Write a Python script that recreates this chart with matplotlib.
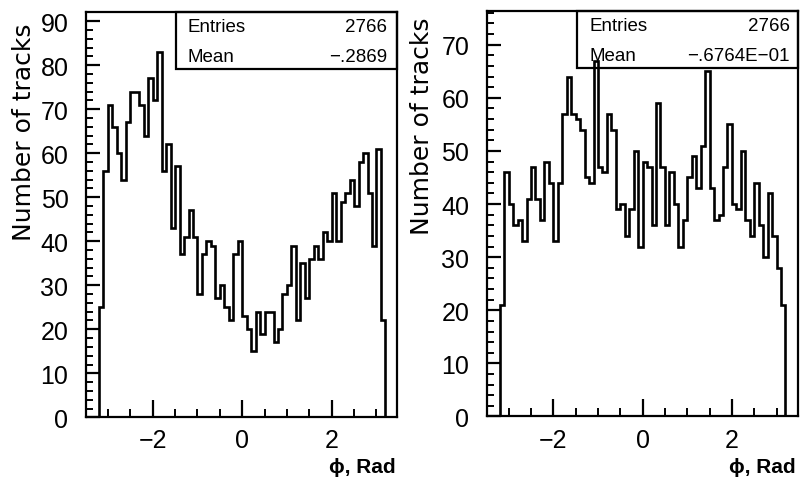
import numpy as np
import matplotlib
matplotlib.use("Agg")
import matplotlib.pyplot as plt
from matplotlib.ticker import MultipleLocator
from matplotlib.patches import Rectangle

# ---- data (64 bins over [-3.2, 3.2]) ----
phi_lo, phi_hi, n_bins = -3.2, 3.2, 64

counts_left = [25, 56, 71, 66, 60, 54, 67, 74, 74, 71,
               64, 77, 72, 83, 56, 62, 43, 57, 37, 41,
               47, 41, 28, 37, 40, 39, 27, 30, 25, 22,
               37, 40, 23, 20, 15, 24, 19, 24, 24, 17,
               20, 28, 30, 39, 22, 35, 27, 36, 39, 36,
               42, 40, 51, 40, 49, 51, 54, 48, 58, 60,
               51, 39, 61, 22]

counts_right = [21, 46, 40, 36, 37, 33, 41, 47, 41, 37,
                48, 44, 33, 44, 57, 64, 57, 56, 54, 45,
                44, 67, 47, 46, 57, 54, 39, 40, 34, 39,
                50, 32, 48, 47, 36, 59, 47, 36, 46, 40,
                32, 37, 45, 49, 43, 51, 65, 43, 37, 38,
                47, 55, 40, 39, 50, 37, 34, 44, 36, 30,
                42, 34, 28, 21]

stats_left = [("Entries", "2766"), ("Mean", "\u2212.2869")]
stats_right = [("Entries", "2766"), ("Mean", "\u2212.6764E\u221201")]

x_label = "\u03d5, Rad"
y_label = "Number of tracks"

FONT = ["Liberation Sans", "DejaVu Sans"]
plt.rcParams['font.family'] = FONT

fig = plt.figure(figsize=(8.03, 4.85), dpi=100)

def panel(rect, counts, ymax, stats, box_left, num_right):
    ax = fig.add_axes(rect)
    edges = np.linspace(phi_lo, phi_hi, n_bins + 1)
    ax.stairs(counts, edges, baseline=0, color="black", linewidth=1.9)
    ax.set_xlim(-3.48, 3.47)
    ax.set_ylim(0, ymax)
    ax.xaxis.set_major_locator(MultipleLocator(2))
    ax.xaxis.set_minor_locator(MultipleLocator(0.5))
    ax.yaxis.set_major_locator(MultipleLocator(10))
    ax.yaxis.set_minor_locator(MultipleLocator(2))
    ax.tick_params(axis="both", which="both", direction="in", color="black",
                   top=False, right=False)
    ax.tick_params(axis="y", which="major", length=10, width=1.6, pad=13,
                   labelsize=18)
    ax.tick_params(axis="y", which="minor", length=5, width=1.4)
    ax.tick_params(axis="x", which="major", length=12, width=1.6, pad=8,
                   labelsize=18)
    ax.tick_params(axis="x", which="minor", length=6, width=1.4)
    for s in ax.spines.values():
        s.set_linewidth(1.6)
    # stats box
    ax.add_patch(Rectangle((box_left, 0.859), 1 - box_left, 0.141,
                           transform=ax.transAxes, fill=False,
                           edgecolor="black", linewidth=1.6, clip_on=False))
    ys = [0.963, 0.889]
    for (k, v), yy in zip(stats, ys):
        ax.text(box_left + 0.038, yy, k, transform=ax.transAxes,
                ha="left", va="center", fontsize=13.5)
        ax.text(num_right, yy, v, transform=ax.transAxes,
                ha="right", va="center", fontsize=13.5)
    return ax

axL = panel([0.1077, 0.1375, 0.3873, 0.8357], counts_left, 92.1,
            stats_left, 0.288, 0.966)
axR = panel([0.6068, 0.1392, 0.3864, 0.8367], counts_right, 76.4,
            stats_right, 0.290, 0.976)

# axis titles
fig.text(24 / 803, 1 - 132 / 485, y_label, rotation=90, ha="center",
         va="center", fontsize=18, family=["DejaVu Sans"])
fig.text(422 / 803, 1 - 126 / 485, y_label, rotation=90, ha="center",
         va="center", fontsize=18, family=["DejaVu Sans"])
fig.text(396 / 803, 1 - 468 / 485, x_label, ha="right", va="center",
         fontsize=15, fontweight="bold")
fig.text(796 / 803, 1 - 468 / 485, x_label, ha="right", va="center",
         fontsize=15, fontweight="bold")

fig.savefig("out.png", dpi=100, facecolor="white")
